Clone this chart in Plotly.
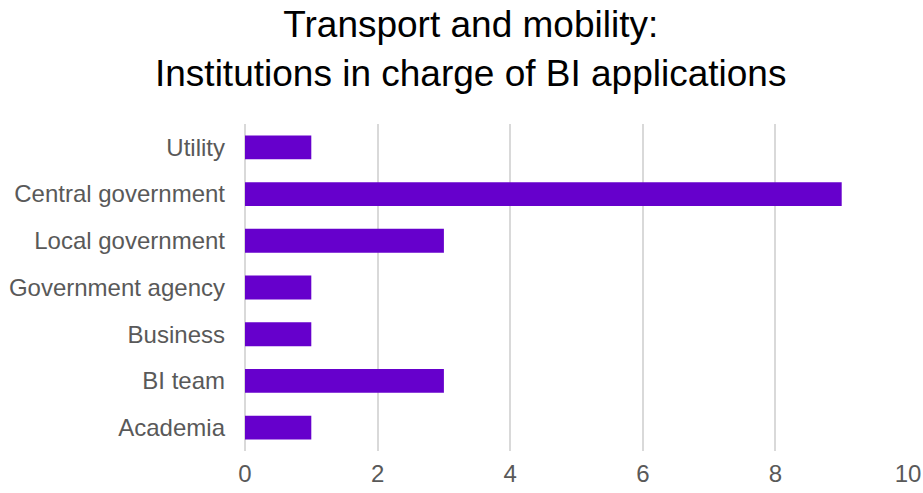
import plotly.graph_objects as go

categories = ["Utility", "Central government", "Local government", "Government agency",
              "Business", "BI team", "Academia"]
counts = [1, 9, 3, 1, 1, 3, 1]
x_ticks = [0, 2, 4, 6, 8, 10]

fig = go.Figure()

fig.add_trace(go.Bar(
    x=counts,
    y=categories,
    orientation="h",
    marker_color="#6600CC",
    marker_line_width=0,
    hoverinfo="x+y",
))

fig.update_layout(
    title=dict(
        text="Transport and mobility:<br>Institutions in charge of BI applications",
        x=0.51, xanchor="center", y=0.924, yanchor="middle",
        font=dict(family="Liberation Sans, Arial", size=37, color="#000000"),
    ),
    width=923, height=493,
    margin=dict(l=245, r=15, t=124, b=42, autoexpand=False),
    plot_bgcolor="white",
    paper_bgcolor="white",
    bargap=0.49,
    showlegend=False,
    font=dict(family="Liberation Sans, Arial", size=24, color="#595959"),
)

fig.update_xaxes(
    range=[0, 10], tickvals=x_ticks,
    showgrid=True, gridcolor="#d9d9d9", gridwidth=1.5,
    zeroline=True, zerolinecolor="#d9d9d9", zerolinewidth=1.5,
    showline=False, ticks="", ticklen=0,
    ticklabelstandoff=6, automargin=False,
    tickfont=dict(size=24, color="#595959"),
)
fig.update_yaxes(
    categoryorder="array", categoryarray=categories[::-1],
    showgrid=False, showline=False, ticks="",
    ticklabelstandoff=19, automargin=False,
    tickfont=dict(size=24, color="#595959"),
)

# page body margin would shift the figure, drop it
fig.write_html("out.html", config={"displayModeBar": False},
               post_script="document.body.style.margin='0';")
